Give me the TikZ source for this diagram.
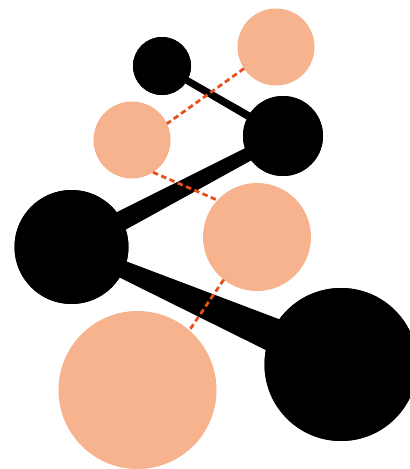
\documentclass[tikz,border=0pt]{standalone}
\usetikzlibrary{calc}
\definecolor{peach}{HTML}{F6B38D}
\definecolor{dashred}{HTML}{E8501E}
\begin{document}
\begin{tikzpicture}[x=1pt,y=-1pt,
  blackball/.style={circle,fill=black,inner sep=0pt,outer sep=0pt},
  peachball/.style={circle,fill=peach,inner sep=0pt,outer sep=0pt},
  link/.style={dashred,line width=2.8pt,dash pattern=on 5.5pt off 3.5pt}]
\useasboundingbox (0,0) rectangle (410,469);
\clip (0,0) rectangle (410,469);
% nodes (positions only)
\path (162,66) node[blackball,minimum size=58pt] (b1) {}
      (283,136) node[blackball,minimum size=80pt] (b2) {}
      (71.5,247) node[blackball,minimum size=114pt] (b3) {}
      (341,364.5) node[blackball,minimum size=153pt] (b4) {};
% tapered sticks
\fill[black] ($(b1.center)!3.3pt!90:(b2.center)$) -- ($(b2.center)!4.2pt!-90:(b1.center)$)
  -- ($(b2.center)!4.2pt!90:(b1.center)$) -- ($(b1.center)!3.3pt!-90:(b2.center)$) -- cycle;
\fill[black] ($(b2.center)!6pt!90:(b3.center)$) -- ($(b3.center)!11pt!-90:(b2.center)$)
  -- ($(b3.center)!11pt!90:(b2.center)$) -- ($(b2.center)!6pt!-90:(b3.center)$) -- cycle;
\fill[black] ($(b3.center)!6pt!90:(b4.center)$) -- ($(b4.center)!20.5pt!-90:(b3.center)$)
  -- ($(b4.center)!20.5pt!90:(b3.center)$) -- ($(b3.center)!6pt!-90:(b4.center)$) -- cycle;
% redraw black balls on top of sticks
\path (162,66) node[blackball,minimum size=58pt] {}
      (283,136) node[blackball,minimum size=80pt] {}
      (71.5,247) node[blackball,minimum size=114pt] {}
      (341,364.5) node[blackball,minimum size=153pt] {};
% peach balls
\path (276,47) node[peachball,minimum size=77pt] (pA) {}
      (132,140) node[peachball,minimum size=77pt] (pB) {}
      (257,237) node[peachball,minimum size=108pt] (pC) {}
      (137.5,390) node[peachball,minimum size=158pt] (pD) {};
% dashed links
\draw[link] (pA.214) -- (pB.25);
\draw[link] (pB.303) -- (pC.137);
\draw[link] (pC.232.5) -- (pD.49);
\end{tikzpicture}
\end{document}
